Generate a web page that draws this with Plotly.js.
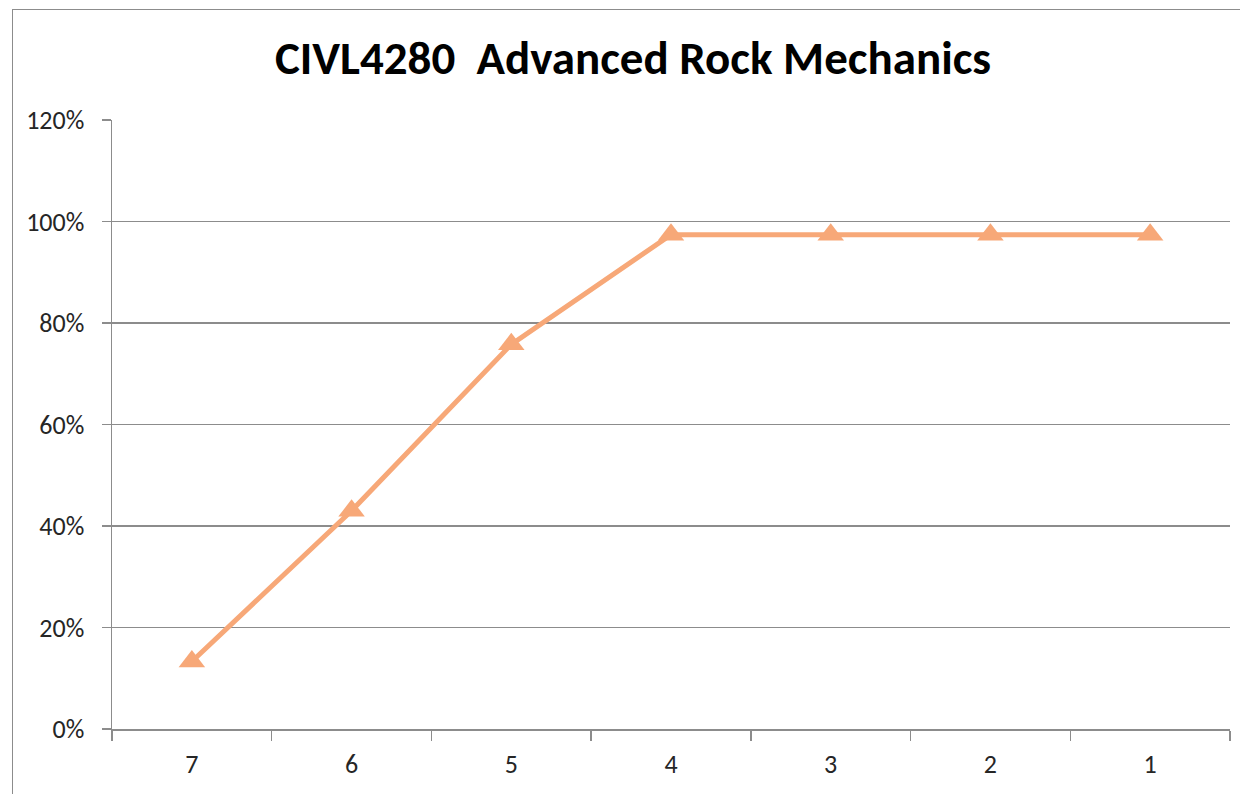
<!DOCTYPE html>
<html>
<head>
<meta charset="utf-8">
<script src="https://cdn.plot.ly/plotly-3.0.1.min.js"></script>
<style>
html,body{margin:0;padding:0;background:#fff;}
#frame{position:absolute;left:12px;top:9px;width:1300px;height:900px;border:1px solid #8c8c8c;box-sizing:border-box;}
#chart{position:absolute;left:0;top:0;width:1240px;height:794px;}
</style>
</head>
<body>
<div id="frame"></div>
<div id="chart"></div>
<script>
const chartTitle = "CIVL4280  Advanced Rock Mechanics";
const categories = ["7", "6", "5", "4", "3", "2", "1"];
const values = [0.133, 0.43, 0.758, 0.974, 0.974, 0.974, 0.974];
const yTickValues = [0, 0.2, 0.4, 0.6, 0.8, 1.0, 1.2];
const yTickLabels = ["0%", "20%", "40%", "60%", "80%", "100%", "120%"];

const fontFam = "Calibri, Carlito, Lato, 'Open Sans', sans-serif";

const trace = {
  x: categories,
  y: values,
  type: "scatter",
  mode: "lines+markers",
  line: {color: "#F7A878", width: 5},
  marker: {symbol: "triangle-up", size: 23, color: "#F7A878"},
  hoverinfo: "skip"
};

const layout = {
  width: 1240,
  height: 794,
  margin: {l: 112, r: 10, t: 120, b: 64.5, pad: 0},
  paper_bgcolor: "rgba(0,0,0,0)",
  plot_bgcolor: "rgba(0,0,0,0)",
  showlegend: false,
  title: {
    text: "<b>" + chartTitle + "</b>",
    font: {family: fontFam, size: 47, color: "#000"},
    x: 633/1240, xanchor: "center",
    y: 1 - 58/794, yanchor: "middle"
  },
  xaxis: {
    type: "category",
    range: [-0.5, 6.5],
    showgrid: false,
    showline: true,
    linecolor: "#8c8c8c",
    linewidth: 1.5,
    ticks: "outside",
    tickson: "boundaries",
    ticklen: 10,
    tickcolor: "#8c8c8c",
    tickwidth: 1.5,
    ticklabelstandoff: 11,
    tickfont: {family: fontFam, size: 26, color: "#262626"},
    zeroline: false,
    fixedrange: true
  },
  yaxis: {
    range: [0, 1.2],
    tickvals: yTickValues,
    ticktext: yTickLabels,
    showgrid: true,
    gridcolor: "#8c8c8c",
    gridwidth: 1.2,
    showline: true,
    linecolor: "#8c8c8c",
    linewidth: 1.5,
    ticks: "outside",
    ticklen: 9,
    tickcolor: "#8c8c8c",
    tickwidth: 1.2,
    ticklabelstandoff: 12,
    tickfont: {family: fontFam, size: 26, color: "#262626"},
    zeroline: false,
    fixedrange: true
  }
};

Plotly.newPlot("chart", [trace], layout, {displayModeBar: false, staticPlot: true});
</script>
</body>
</html>
